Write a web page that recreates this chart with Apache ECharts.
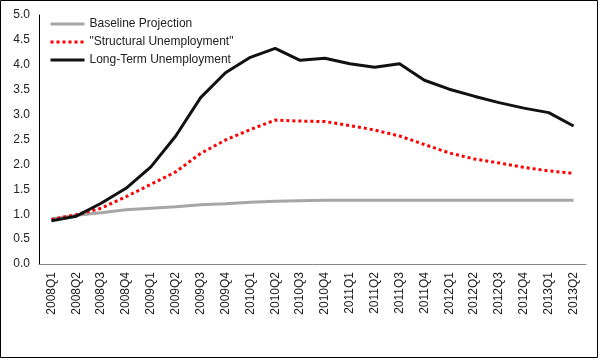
<!DOCTYPE html>
<html><head><meta charset="utf-8">
<script src="https://cdn.jsdelivr.net/npm/echarts@6/dist/echarts.min.js"></script>
<style>html,body{margin:0;padding:0;background:#fff}#c{width:601px;height:360px}</style>
</head><body><div id="c"></div>
<script>
var categories = ['2008Q1','2008Q2','2008Q3','2008Q4','2009Q1','2009Q2','2009Q3','2009Q4','2010Q1','2010Q2','2010Q3','2010Q4','2011Q1','2011Q2','2011Q3','2011Q4','2012Q1','2012Q2','2012Q3','2012Q4','2013Q1','2013Q2'];
var baseline = [0.91,0.98,1.03,1.09,1.12,1.15,1.19,1.21,1.24,1.26,1.27,1.28,1.28,1.28,1.28,1.28,1.28,1.28,1.28,1.28,1.28,1.28];
var structural = [0.89,0.99,1.12,1.35,1.60,1.85,2.22,2.49,2.70,2.89,2.87,2.86,2.78,2.69,2.57,2.40,2.23,2.11,2.03,1.94,1.87,1.82];
var longTerm = [0.87,0.96,1.22,1.52,1.95,2.57,3.34,3.84,4.15,4.33,4.09,4.13,4.02,3.95,4.02,3.69,3.51,3.37,3.24,3.13,3.04,2.77];
var yTicks = {min:0, max:5, interval:0.5};

var font = "'Liberation Sans', Arial, sans-serif";
var chart = echarts.init(document.getElementById('c'));
chart.setOption({
  animation:false,
  backgroundColor:'#fff',
  graphic:[{type:'rect',shape:{x:0.5,y:0.5,width:597,height:357},style:{fill:'none',stroke:'#000',lineWidth:1},silent:true}],
  grid:{left:39,right:15,top:15,bottom:96,containLabel:false},
  legend:{
    left:44, top:13, orient:'vertical', itemWidth:34, itemHeight:14, itemGap:6,
    itemStyle:{opacity:0},
    lineStyle:{width:3},
    textStyle:{fontFamily:font,fontSize:12,color:'#222'},
    data:['Baseline Projection','"Structural Unemployment"','Long-Term Unemployment']
  },
  xAxis:{
    type:'category', data:categories, boundaryGap:true,
    axisLine:{lineStyle:{color:'#868686',width:1}},
    axisTick:{inside:true,length:5,lineStyle:{color:'#868686'}},
    axisLabel:{rotate:90,fontFamily:font,fontSize:12,color:'#222',margin:8,interval:0},
    splitLine:{show:false}
  },
  yAxis:{
    type:'value', min:yTicks.min, max:yTicks.max, interval:yTicks.interval,
    axisLine:{show:true,lineStyle:{color:'#000',width:1}},
    axisTick:{show:false},
    axisLabel:{fontFamily:font,fontSize:12,color:'#222',margin:9,formatter:function(v){return v.toFixed(1);}},
    splitLine:{show:false}
  },
  series:[
    {name:'Baseline Projection',type:'line',data:baseline,symbol:'none',lineStyle:{color:'#a6a6a6',width:3},itemStyle:{color:'#a6a6a6'}},
    {name:'"Structural Unemployment"',type:'line',data:structural,symbol:'none',lineStyle:{color:'#ff0000',width:3,type:[3,3]},itemStyle:{color:'#ff0000'}},
    {name:'Long-Term Unemployment',type:'line',data:longTerm,symbol:'none',lineStyle:{color:'#111',width:3},itemStyle:{color:'#111'}}
  ]
});
</script></body></html>
